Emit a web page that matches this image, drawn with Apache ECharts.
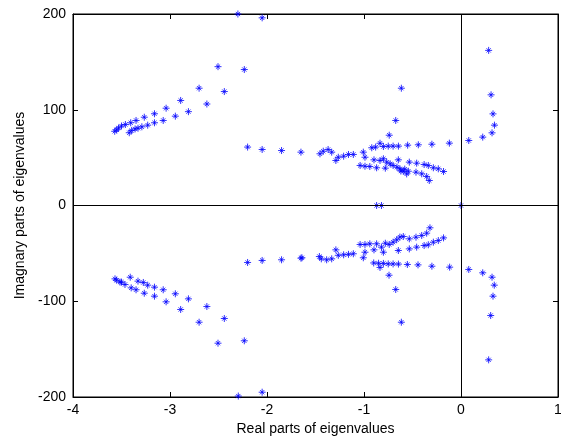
<!DOCTYPE html>
<html>
<head>
<meta charset="utf-8">
<script src="https://cdn.jsdelivr.net/npm/echarts@6/dist/echarts.min.js"></script>
<style>
  html, body { margin: 0; padding: 0; background: #fff; }
  #chart { width: 561px; height: 441px; }
</style>
</head>
<body>
<div id="chart"></div>
<script>
// x ticks / y ticks
var xTicks = [-4, -3, -2, -1, 0, 1];
var yTicks = [-200, -100, 0, 100, 200];

// eigenvalues, upper half plane [re, im]
var upperPoints = [
  [-2.30, 200], [-2.05, 196],
  [-2.505, 145], [-2.70, 122.5], [-2.89, 109.7], [-3.04, 101.6], [-3.16, 95.8], [-3.265, 92.2],
  [-3.35, 88.8], [-3.405, 86.4], [-3.46, 84.6], [-3.50, 83], [-3.53, 81], [-3.55, 79], [-3.57, 77.5],
  [-2.234, 142], [-2.44, 119], [-2.62, 106], [-2.81, 98], [-2.945, 93.3], [-3.07, 88.8], [-3.16, 86.4],
  [-3.23, 83.9], [-3.29, 82.2], [-3.33, 80.7], [-3.36, 80], [-3.395, 78.3], [-3.42, 76],
  [-2.20, 61], [-2.05, 58.5], [-1.85, 57.4], [-1.65, 55.7],
  [-1.454, 54], [-1.42, 56.7], [-1.37, 58.5], [-1.333, 55.7], [-1.29, 47], [-1.265, 50.4],
  [-1.21, 51.5], [-1.16, 53.3], [-1.11, 53.3], [-1.007, 55.7], [-0.99, 50.4],
  [-0.92, 60.3], [-0.88, 61], [-0.835, 65], [-0.80, 61.6], [-0.75, 62], [-0.70, 62], [-0.645, 62],
  [-0.55, 63], [-0.44, 63.4], [-0.30, 64], [-0.12, 65.1], [0.08, 67.9], [0.224, 71.4], [0.32, 75.9],
  [0.345, 83.9], [0.33, 95.7], [0.31, 115.6], [0.285, 162],
  [-0.74, 73.4], [-0.673, 88.8], [-0.615, 122.5],
  [-1.04, 41.8], [-0.99, 41], [-0.94, 40.7], [-0.87, 39.4], [-0.78, 39],
  [-0.897, 47.7], [-0.835, 47], [-0.80, 48.8], [-0.766, 45.3], [-0.73, 43.5], [-0.70, 41.8],
  [-0.66, 40], [-0.63, 38.3], [-0.595, 35.8], [-0.62, 36], [-0.58, 38], [-0.56, 33],
  [-0.646, 47.7], [-0.533, 45.3], [-0.457, 44.2], [-0.38, 42.8], [-0.337, 41.8], [-0.285, 39.4],
  [-0.234, 38.3], [-0.18, 35.5],
  [-0.543, 35.8], [-0.464, 34.8], [-0.405, 33.1], [-0.354, 30.3], [-0.327, 26.1]
];

// eigenvalues, lower half plane [re, im]
var lowerPoints = [
  [-2.296, -199], [-2.05, -195],
  [-3.567, -76.6], [-3.41, -74.9], [-3.55, -78], [-3.50, -80],
  [-3.33, -79], [-3.275, -80.4], [-3.23, -83.2], [-3.16, -85.3], [-3.07, -88], [-2.945, -92.2],
  [-2.81, -97.5], [-2.62, -105.5], [-2.44, -118], [-2.234, -141.3],
  [-3.515, -80], [-3.464, -82.5], [-3.40, -86], [-3.35, -88], [-3.265, -91.6], [-3.16, -94.7],
  [-3.04, -100.6], [-2.89, -108.6], [-2.70, -121.9], [-2.505, -143.8],
  [-2.20, -59.5], [-2.05, -57.4], [-1.85, -56.7], [-1.65, -55],
  [0.285, -161.2], [0.306, -114.9], [0.33, -94.7], [0.343, -83.2], [0.32, -74.9], [0.224, -70.3],
  [0.08, -66.8], [-0.117, -64.4], [-0.30, -63.4], [-0.443, -62], [-0.553, -61.6], [-0.645, -61.2],
  [-0.70, -61], [-0.75, -61], [-0.80, -60.5], [-0.85, -60.3], [-0.90, -60],
  [-0.835, -64.7], [-0.742, -72.8], [-0.673, -87.7], [-0.615, -121.9],
  [-0.32, -23.3], [-0.354, -28.9], [-0.405, -31.3], [-0.464, -33.1], [-0.533, -34.8], [-0.595, -32.4],
  [-0.63, -33], [-0.663, -35.8], [-0.70, -38.3], [-0.74, -40.7], [-0.78, -39.4], [-0.82, -43.5],
  [-0.87, -40], [-0.94, -40], [-0.99, -40.7], [-1.04, -40.7],
  [-0.18, -33.8], [-0.234, -36.6], [-0.285, -38.3], [-0.337, -41], [-0.38, -41.8], [-0.457, -43.5],
  [-0.533, -45.3], [-0.646, -47], [-0.80, -48.8], [-0.897, -46.3], [-0.99, -48.8], [-1.007, -54.6],
  [-1.11, -50.4], [-1.16, -51], [-1.21, -51.5], [-1.265, -52], [-1.29, -46.3], [-1.333, -55.7],
  [-1.385, -56.7], [-1.44, -55.7], [-1.46, -53.3], [-1.64, -54.6]
];

// eigenvalues on the real axis
var realPoints = [[-0.87, 0], [-0.82, 0], [0, 0]];

var star = 'path://M0,-5L0,5M-5,0L5,0M-3,-3L3,3M-3,3L3,-3';
var font = 'Liberation Sans';

var chart = echarts.init(document.getElementById('chart'));

function starSeries(data) {
  return {
    type: 'scatter',
    data: data,
    symbol: star,
    symbolSize: 7,
    z: 3,
    itemStyle: { color: '#0000ff', borderColor: '#0000ff', borderWidth: 1 },
    emphasis: { disabled: true }
  };
}

var axisCommon = {
  type: 'value',
  axisLine: { show: true, onZero: false, lineStyle: { color: '#000', width: 1 } },
  axisTick: { show: true, inside: true, length: 5, lineStyle: { color: '#000' } },
  splitLine: { show: false }
};

var option = {
  animation: false,
  backgroundColor: '#fff',
  grid: {
    left: 73, right: 3, top: 14, bottom: 44,
    outerBoundsMode: 'none', containLabel: false,
    show: true, borderColor: '#000', borderWidth: 1
  },
  xAxis: [
    Object.assign({}, axisCommon, {
      min: xTicks[0], max: xTicks[xTicks.length - 1], interval: 1,
      position: 'bottom',
      name: 'Real parts of eigenvalues',
      nameLocation: 'middle', nameGap: 22,
      nameTextStyle: { fontFamily: font, fontSize: 14, color: '#000' },
      axisLabel: { margin: 6, fontFamily: font, fontSize: 14, color: '#000' }
    }),
    Object.assign({}, axisCommon, {
      min: xTicks[0], max: xTicks[xTicks.length - 1], interval: 1,
      position: 'top', axisLabel: { show: false }
    })
  ],
  yAxis: [
    Object.assign({}, axisCommon, {
      min: yTicks[0], max: yTicks[yTicks.length - 1], interval: 100,
      position: 'left',
      name: 'Imagnary parts of eigenvalues',
      nameLocation: 'middle', nameGap: 42,
      nameTextStyle: { fontFamily: font, fontSize: 14, color: '#000' },
      axisLabel: { margin: 7, fontFamily: font, fontSize: 14, color: '#000' }
    }),
    Object.assign({}, axisCommon, {
      min: yTicks[0], max: yTicks[yTicks.length - 1], interval: 100,
      position: 'right', axisLabel: { show: false }
    })
  ],
  series: [
    {
      type: 'scatter',
      data: [],
      z: 1,
      markLine: {
        silent: true,
        symbol: 'none',
        label: { show: false },
        lineStyle: { color: '#000', width: 1, type: 'solid' },
        data: [{ xAxis: 0 }, { yAxis: 0 }]
      }
    },
    starSeries(upperPoints),
    starSeries(lowerPoints),
    starSeries(realPoints)
  ]
};

chart.setOption(option);
</script>
</body>
</html>
